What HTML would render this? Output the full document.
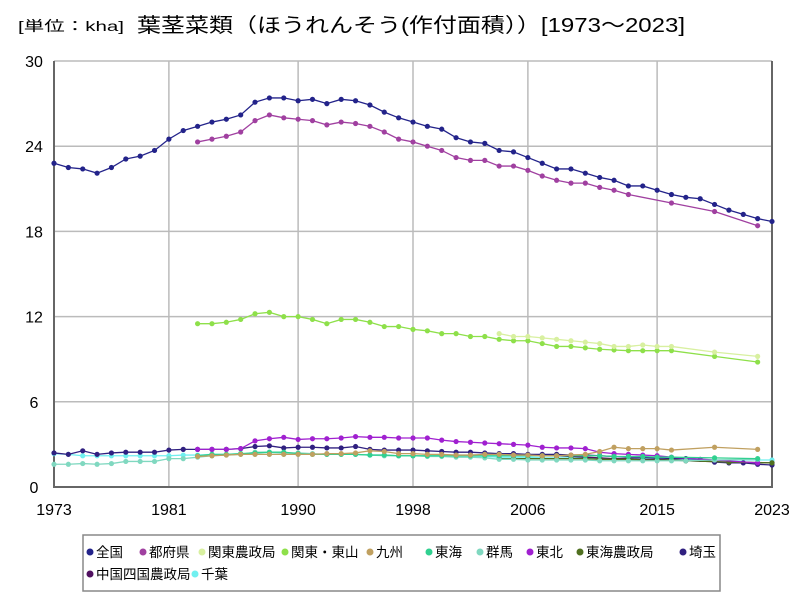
<!DOCTYPE html>
<html><head><meta charset="utf-8">
<style>
body{margin:0;background:#fff;width:800px;height:600px;overflow:hidden;font-family:"Liberation Sans","Noto Sans CJK JP",sans-serif;}
</style></head>
<body>
<svg id="chart" width="800" height="600" xmlns="http://www.w3.org/2000/svg">
<text x="18" y="31" font-size="14" textLength="106" lengthAdjust="spacingAndGlyphs" font-family="Liberation Sans, Noto Sans CJK JP, sans-serif">[単位：kha]</text>
<text x="137" y="32" font-size="20" textLength="548" lengthAdjust="spacingAndGlyphs" font-family="Liberation Sans, Noto Sans CJK JP, sans-serif">葉茎菜類（ほうれんそう(作付面積））[1973～2023]</text>
<g id="grid"></g>
<g id="series"></g>
<rect x="83" y="535" width="637" height="56" fill="#fff" stroke="#888" stroke-width="1.5"/>
<g id="legend"></g>
</svg>
<script>
const years0 = 1973;
const xTicks = [1973,1981,1990,1998,2006,2015,2023];
const yTicks = [0,6,12,18,24,30];
const names = ["全国","都府県","関東農政局","関東・東山","九州","東海","群馬","東北","東海農政局","埼玉","中国四国農政局","千葉"];
const colors = ["#23238a","#a040a0","#d8f0a0","#8ee04a","#c0a060","#30d090","#80d8c0","#a020d0","#507020","#302080","#501060","#70f0f0"];
const starts = [1973,1983,2004,1983,1983,1983,1973,1983,2004,1973,2004,1973];
const zenkoku = [22.8,22.5,22.4,22.1,22.5,23.1,23.3,23.7,24.5,25.1,25.4,25.7,25.9,26.2,27.1,27.4,27.4,27.2,27.3,27.0,27.3,27.2,26.9,26.4,26.0,25.7,25.4,25.2,24.6,24.3,24.2,23.7,23.6,23.2,22.8,22.4,22.4,22.1,21.8,21.6,21.2,21.2,20.9,20.6,20.4,20.3,19.9,19.5,19.2,18.9,18.7];
const todofuken = [24.3,24.5,24.7,25.0,25.8,26.2,26.0,25.9,25.8,25.5,25.7,25.6,25.4,25.0,24.5,24.3,24.0,23.7,23.2,23.0,23.0,22.6,22.6,22.3,21.9,21.6,21.4,21.4,21.1,20.9,20.6,null,null,20.0,null,null,19.4,null,null,18.4];
const kantoNosei = [10.8,10.6,10.6,10.5,10.4,10.3,10.2,10.1,9.9,9.9,10.0,9.9,9.9,null,null,9.5,null,null,9.2];
const kantoTosan = [11.5,11.5,11.6,11.8,12.2,12.3,12.0,12.0,11.8,11.5,11.8,11.8,11.6,11.3,11.3,11.1,11.0,10.8,10.8,10.6,10.6,10.4,10.3,10.3,10.1,9.9,9.9,9.8,9.7,9.65,9.6,9.6,9.6,9.6,null,null,9.2,null,null,8.8];
const kyushu = [2.15,2.2,2.25,2.3,2.3,2.3,2.3,2.3,2.3,2.35,2.35,2.4,2.55,2.5,2.35,2.35,2.3,2.3,2.25,2.25,2.3,2.3,2.25,2.25,2.2,2.2,2.25,2.3,2.5,2.8,2.7,2.7,2.7,2.6,null,null,2.8,null,null,2.65];
const tokai = [2.2,2.3,2.3,2.35,2.4,2.45,2.45,2.35,2.3,2.3,2.3,2.3,2.25,2.25,2.2,2.2,2.2,2.2,2.2,2.2,2.2,2.2,2.2,2.2,2.2,2.2,2.2,2.2,2.2,2.15,2.15,2.15,2.1,2.1,null,null,2.05,null,null,2.0];
const gunma = [1.6,1.6,1.65,1.6,1.65,1.8,1.8,1.8,2.0,2.0,2.1,2.2,2.25,2.3,2.45,2.45,2.4,2.4,2.35,2.3,2.3,2.3,2.25,2.2,2.2,2.2,2.15,2.15,2.1,2.1,2.05,1.95,1.95,1.9,1.9,1.9,1.9,1.9,1.85,1.85,1.85,1.85,1.85,1.85,1.85,null,1.9,null,null,1.95];
const tohoku = [2.65,2.65,2.65,2.7,3.25,3.4,3.5,3.35,3.4,3.4,3.45,3.55,3.5,3.5,3.45,3.45,3.45,3.3,3.2,3.15,3.1,3.05,3.0,2.95,2.8,2.75,2.75,2.7,2.45,2.35,2.3,2.25,2.2,2.1,null,null,1.9,null,null,1.7];
const tokaiNosei = [2.0,2.0,2.0,2.0,2.0,2.0,2.0,1.95,1.95,1.95,1.9,1.9,1.9,1.85,null,null,1.75,null,null,1.7];
const saitama = [2.4,2.3,2.55,2.3,2.4,2.45,2.45,2.45,2.6,2.65,2.65,2.65,2.65,2.7,2.85,2.9,2.75,2.8,2.8,2.75,2.75,2.85,2.65,2.6,2.6,2.6,2.55,2.5,2.45,2.45,2.4,2.35,2.35,2.3,2.3,2.3,2.25,2.25,2.2,2.15,2.1,2.1,2.05,2.0,2.0,1.95,1.75,1.7,1.7,1.6,1.55];
const chugokuShikoku = [2.3,2.25,2.25,2.2,2.2,2.15,2.1,2.05,2.0,2.0,1.95,1.95,1.9,1.85,null,null,1.75,null,null,1.7];
const chiba = [2.35,2.3,2.2,2.2,2.2,2.2,2.2,2.2,2.2,2.25,2.25,2.3,2.3,2.35,2.3,2.3,2.3,2.3,2.3,2.3,2.3,2.3,2.25,2.25,2.2,2.2,2.2,2.2,2.15,2.15,2.15,2.1,2.1,2.1,2.05,2.05,2.05,2.05,2.0,2.0,2.0,2.0,2.0,2.0,1.95,null,1.9,null,null,1.9,1.9];
const allSeries = [zenkoku,todofuken,kantoNosei,kantoTosan,kyushu,tokai,gunma,tohoku,tokaiNosei,saitama,chugokuShikoku,chiba];
const ids = ["zenkoku","todofuken","kanto-nosei","kanto-tosan","kyushu","tokai","gunma","tohoku","tokai-nosei","saitama","chugoku-shikoku","chiba"];

const NS="http://www.w3.org/2000/svg";
const X0=54,X1=772,Y0=487,Y1=61;
const xS=y=>X0+(y-1973)/(2023-1973)*(X1-X0);
const yS=v=>Y0-(v-0)/(30-0)*(Y0-Y1);
function mk(tag,attrs,parent){const e=document.createElementNS(NS,tag);for(const k in attrs)e.setAttribute(k,attrs[k]);parent.appendChild(e);return e;}
const grid=document.getElementById('grid');
yTicks.forEach(t=>{
  if(t>0){const l=mk('line',{x1:X0,x2:X1,y1:yS(t),y2:yS(t),stroke:'#bbb','stroke-width':1.5},grid);
  
  }
  const tx=mk('text',{x:X0-20,y:yS(t)+6,'font-size':16,'text-anchor':'middle'},grid);tx.textContent=t;
  
  
});
xTicks.forEach(t=>{
  if(t>1973&&t<2023){const l=mk('line',{x1:xS(t),x2:xS(t),y1:Y1,y2:Y0,stroke:'#bbb','stroke-width':1.5},grid);
  
  }
  const tx=mk('text',{x:xS(t),y:Y0+28,'font-size':16,'text-anchor':'middle'},grid);tx.textContent=t;
  
  
});
const ax=mk('path',{d:`M${X0},${Y1}V${Y0}H${X1}V${Y1}`,fill:'none',stroke:'#666','stroke-width':2},grid);


const sg=document.getElementById('series');
for(let i=allSeries.length-1;i>=0;i--){
  const g=mk('g',{},sg);
  
  
  const pts=[];
  allSeries[i].forEach((v,j)=>{if(v!==null)pts.push([xS(starts[i]+j),yS(v)]);});
  const p=mk('polyline',{points:pts.map(p=>p.join(',')).join(' '),fill:'none',stroke:colors[i],'stroke-width':1.3},g);
  
  
  pts.forEach(pt=>{const c=mk('circle',{cx:pt[0],cy:pt[1],r:2.6,fill:colors[i]},g);
    
    });
}
const lg=document.getElementById('legend');
const row1=[[90,0],[143,1],[202,2],[285,3],[370,4],[429,5],[480,6],[530,7],[580,8],[683,9]];
const row2=[[90,10],[195,11]];
row1.concat(row2).forEach((r,k)=>{
  const y=k<row1.length?552:574;const i=r[1];
  const g=mk('g',{},lg);
  
  
  mk('circle',{cx:r[0],cy:y,r:3.5,fill:colors[i]},g);
  const t=mk('text',{x:r[0]+6,y:y+5,'font-size':13.5},g);t.textContent=names[i];
});
</script>
</body></html>
